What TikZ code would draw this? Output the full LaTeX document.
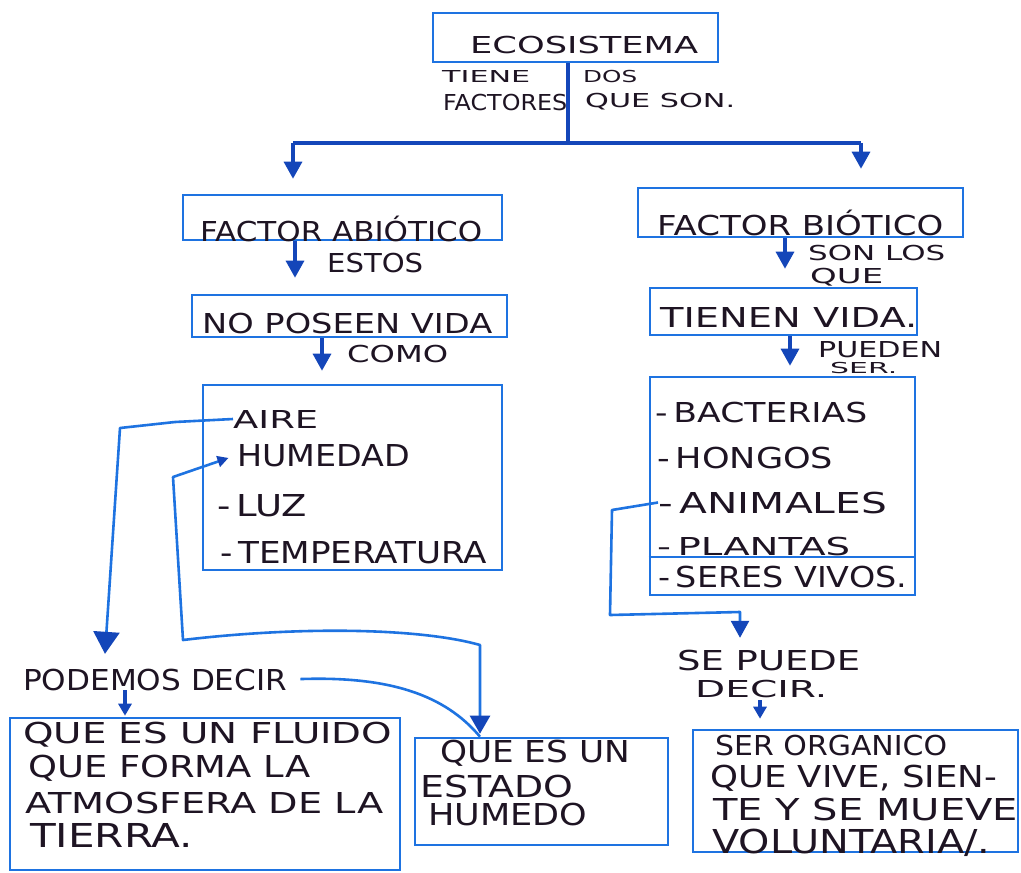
\documentclass[tikz,border=0pt]{standalone}
\usepackage{fontspec}
\setmainfont{DejaVu Sans}
\usepackage{graphicx}
\usetikzlibrary{arrows.meta}

\definecolor{ink}{RGB}{30,20,35}
\definecolor{penblue}{RGB}{30,115,225}
\definecolor{arrowblue}{RGB}{20,70,185}

% hand-lettered line: width, cap height, text
\newcommand{\hw}[3]{\resizebox{#1pt}{#2pt}{\smash{#3}\vphantom{X}}}

\tikzset{
  box/.style={draw=penblue, line width=2.6pt, inner sep=0pt},
  txt/.style={anchor=base west, inner sep=0pt, text=ink},
  trunk/.style={draw=arrowblue, line width=3.2pt},
  wire/.style={draw=penblue, line width=2.6pt, line join=round},
  headm/.style={-{Triangle[length=17pt,width=18pt,color=arrowblue]}},
  heads/.style={-{Triangle[length=12pt,width=13pt,color=arrowblue]}},
  headl/.style={-{Triangle[length=22pt,width=26pt,color=arrowblue]}},
}

\begin{document}
\begin{tikzpicture}[x=1pt,y=-1pt]
\useasboundingbox[fill=white] (0,0) rectangle (1021,873);

% ---------- boxes ----------
\node[box, minimum width=285pt, minimum height=49pt] (eco) at (575.5,37.5) {};
\node[box, minimum width=319pt, minimum height=45pt] (abio) at (342.5,217.5) {};
\node[box, minimum width=315pt, minimum height=42pt] (nopos) at (349.5,316) {};
\node[box, minimum width=299pt, minimum height=185pt] (abiolist) at (352.5,477.5) {};
\node[box, minimum width=325pt, minimum height=49pt] (bio) at (800.5,212.5) {};
\node[box, minimum width=267pt, minimum height=47pt] (tv) at (783.5,311.5) {};
\node[box, minimum width=265pt, minimum height=218pt] (biolist) at (782.5,486) {};
\node[box, minimum width=390pt, minimum height=152pt] (fluid) at (205,794) {};
\node[box, minimum width=253pt, minimum height=107pt] (humedo) at (541.5,791.5) {};
\node[box, minimum width=325pt, minimum height=122pt] (organ) at (855.5,791) {};
\draw[wire] (biolist.west |- 0,557) -- (biolist.east |- 0,557);

% ---------- texts ----------
\node[txt] (t-eco) at (470,53) {\hw{228}{17}{ECOSISTEMA}};
\node[txt] (t-tiene) at (442,82) {\hw{88}{12}{TIENE}};
\node[txt] (t-fact) at (443,110) {\hw{124}{16}{FACTORES}};
\node[txt] (t-dos) at (583,82) {\hw{54}{12}{DOS}};
\node[txt] (t-queson) at (585,107) {\hw{150}{14}{QUE SON.}};

\node[txt] (t-abio) at (200,241) {\hw{282}{20}{FACTOR ABIÓTICO}};
\node[txt] (t-estos) at (327,272) {\hw{96}{19}{ESTOS}};
\node[txt] (t-nopos) at (202,333) {\hw{290}{20}{NO POSEEN VIDA}};
\node[txt] (t-como) at (347,362) {\hw{101}{17}{COMO}};
\node[txt] (aire) at (233,428) {\hw{85}{18}{AIRE}};
\node[txt] (humedad) at (237,466) {\hw{173}{22}{HUMEDAD}};
\node[txt] (luz) at (217,516) {\hw{90}{22}{-\,LUZ}};
\node[txt] (temp) at (220,563) {\hw{267}{22}{-\,TEMPERATURA}};

\node[txt] (t-bio) at (657,235) {\hw{286}{20}{FACTOR BIÓTICO}};
\node[txt] (t-sonlos) at (808,260) {\hw{137}{15}{SON LOS}};
\node[txt] (t-que) at (810,283) {\hw{73}{15}{QUE}};
\node[txt] (t-tv) at (660,327) {\hw{257}{20}{TIENEN VIDA.}};
\node[txt] (t-pueden) at (818,357) {\hw{124}{16}{PUEDEN}};
\node[txt] (t-ser) at (830,373) {\hw{67}{11}{SER.}};
\node[txt] (bact) at (655,422) {\hw{212}{20}{-\,BACTERIAS}};
\node[txt] (hongos) at (657,468) {\hw{176}{21}{-\,HONGOS}};
\node[txt] (anim) at (658,513) {\hw{229}{21}{-\,ANIMALES}};
\node[txt] (plant) at (657,555) {\hw{193}{18}{-\,PLANTAS}};
\node[txt] (seres) at (658,587) {\hw{249}{21}{-\,SERES VIVOS.}};

\node[txt] (sepuede) at (677,670) {\hw{183}{20}{SE PUEDE}};
\node[txt] (decir) at (695,697) {\hw{132}{17}{DECIR.}};
\node[txt] (o1) at (715,755) {\hw{232}{20}{SER ORGANICO}};
\node[txt] (o2) at (710,787) {\hw{287}{22}{QUE VIVE, SIEN-}};
\node[txt] (o3) at (713,820) {\hw{305}{22}{TE Y SE MUEVE}};
\node[txt] (o4) at (712,853) {\hw{278}{24}{VOLUNTARIA/.}};

\node[txt] (podemos) at (23,690) {\hw{264}{21}{PODEMOS DECIR}};
\node[txt] (f1) at (23,743) {\hw{369}{21}{QUE ES UN FLUIDO}};
\node[txt] (f2) at (28,777) {\hw{282}{22}{QUE FORMA LA}};
\node[txt] (f3) at (25,813) {\hw{358}{21}{ATMOSFERA DE LA}};
\node[txt] (f4) at (30,847) {\hw{163}{24}{TIERRA.}};

\node[txt] (h1) at (440,762) {\hw{190}{22}{QUE ES UN}};
\node[txt] (h2) at (420,797) {\hw{153}{22}{ESTADO}};
\node[txt] (h3) at (428,825) {\hw{159}{22}{HUMEDO}};

% ---------- connectors ----------
\coordinate (split) at (568,143);
\coordinate (lb) at (293,143);
\coordinate (rb) at (861,143);
\draw[trunk, line width=4pt] (eco.south -| split) -- (split);
\draw[trunk] (lb) -- (rb);
\draw[trunk, headm, shorten >=15pt] (lb) -- (abio.north -| lb);
\draw[trunk, headm, shorten >=18pt] (rb) -- (bio.north -| rb);

\coordinate (x1) at (295,0);
\coordinate (x2) at (322,0);
\coordinate (x3) at (785,0);
\coordinate (x4) at (790,0);
\draw[trunk, headm, shorten >=16pt] (abio.south -| x1) -- (nopos.north -| x1);
\draw[trunk, headm, shorten >=13pt] (nopos.south -| x2) -- (abiolist.north -| x2);
\draw[trunk, headm, shorten >=18pt] (bio.south -| x3) -- (tv.north -| x3);
\draw[trunk, headm, shorten >=10pt] (tv.south -| x4) -- (biolist.north -| x4);

% AIRE down to PODEMOS DECIR
\coordinate (x5) at (104,0);
\draw[wire, headl, shorten >=15pt] (aire.west) -- (175,422) -- (120,428) -- (podemos.north -| x5);

% HUMEDAD to the humid-state box
\coordinate (x6) at (480,0);
\draw[wire, {Triangle[length=11pt,width=11pt,color=arrowblue]}-{Triangle[length=18pt,width=20pt,color=arrowblue]},
      shorten <=9pt, shorten >=3pt]
  (humedad.west) -- (173,477) -- (183,640) .. controls (300,626) and (420,628) .. (480,645)
  -- (humedo.north -| x6);

% PODEMOS DECIR sweep
\draw[wire, shorten <=13pt] (podemos.east) .. controls (390,676) and (445,695) .. (humedo.north -| x6);

% PODEMOS DECIR down into its box
\coordinate (x7) at (125,0);
\draw[trunk, heads, shorten >=1pt] (podemos.south -| x7) -- (fluid.north -| x7);

% ANIMALES around to SE PUEDE DECIR
\coordinate (x8) at (740,0);
\draw[wire, headm, shorten >=12pt] (anim.west) -- (612,510) -- (610,615) -- (740,612) -- (sepuede.north -| x8);

% DECIR down to the organic box
\coordinate (x9) at (760,0);
\draw[trunk, heads, shorten <=3pt, shorten >=10pt] (decir.south -| x9) -- (organ.north -| x9);

\end{tikzpicture}
\end{document}
